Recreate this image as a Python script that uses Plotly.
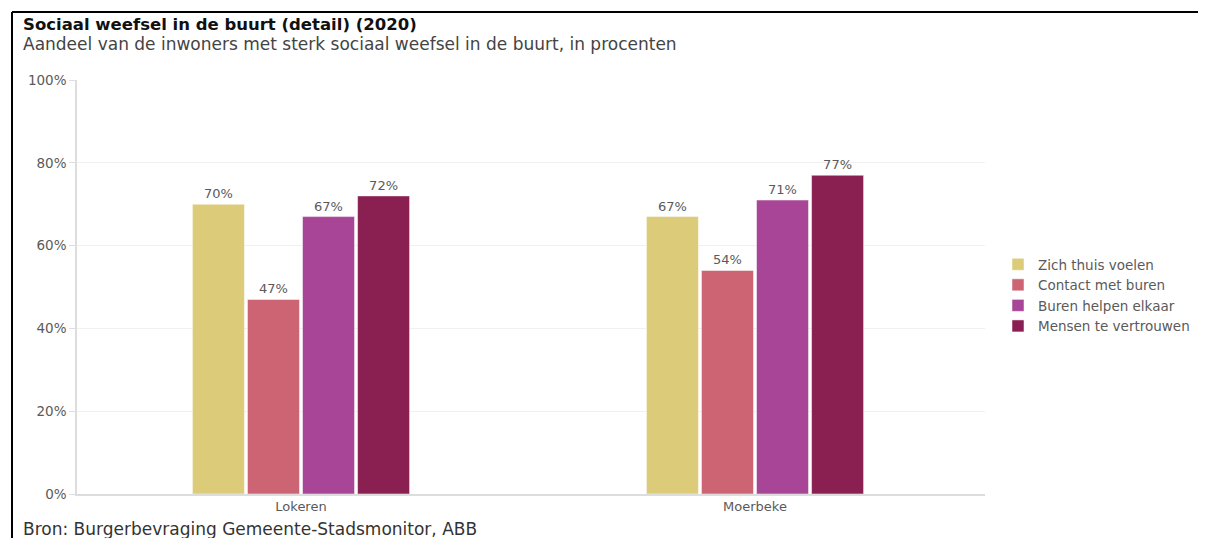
import plotly.graph_objects as go

# Data
gemeenten = ["Lokeren", "Moerbeke"]
reeksen = ["Zich thuis voelen", "Contact met buren", "Buren helpen elkaar", "Mensen te vertrouwen"]
zich_thuis = [70, 67]
contact = [47, 54]
helpen = [67, 71]
vertrouwen = [72, 77]
y_ticks = [0, 20, 40, 60, 80, 100]

kleuren = ["#dccb78", "#cc6473", "#a84596", "#8a1f51"]
waarden = [zich_thuis, contact, helpen, vertrouwen]

FONT = "DejaVu Sans"
GRIJS = "#5a5a5a"

fig = go.Figure()
for naam, vals, kleur in zip(reeksen, waarden, kleuren):
    fig.add_trace(go.Bar(
        x=gemeenten,
        y=vals,
        name=naam,
        marker=dict(color=kleur, line=dict(color="white", width=0.5)),
        text=[f"{v}%" for v in vals],
        textposition="outside",
        textfont=dict(size=13, color=GRIJS, family=FONT),
        cliponaxis=False,
    ))

# the page has an 8px body margin, so the figure is 8px smaller and
# every pixel position below is the reference position minus 8
W, H = 1198, 530
L, R, T, B = 69, 221, 72, 44
pw, ph = W - L - R, H - T - B


def px_x(p):
    return (p - L) / pw


def px_y(p):
    return (H - B - p) / ph


fig.update_layout(
    width=W, height=H,
    margin=dict(l=L, r=R, t=T, b=B, autoexpand=False),
    paper_bgcolor="white",
    plot_bgcolor="white",
    barmode="group",
    bargap=0.515,
    bargroupgap=0.055,
    font=dict(family=FONT, color=GRIJS, size=12),
    showlegend=True,
    legend=dict(
        x=px_x(990), y=px_y(241), xanchor="left", yanchor="top",
        font=dict(size=13.5, color=GRIJS, family=FONT),
        itemwidth=30, tracegroupgap=0,
    ),
    xaxis=dict(
        range=[-0.4934, 1.5066],
        showline=True, linecolor="#dddddd", linewidth=1.5,
        ticks="", tickfont=dict(size=13, color=GRIJS),
        showgrid=False,
    ),
    yaxis=dict(
        range=[0, 100], tickvals=y_ticks,
        ticktext=[f"{v}%" for v in y_ticks],
        showline=True, linecolor="#dddddd", linewidth=1.5,
        ticks="outside", ticklen=6, tickcolor="#dddddd",
        gridcolor="#f0f0f0", zeroline=False,
        tickfont=dict(size=13.5, color=GRIJS),
    ),
    annotations=[
        dict(text="<b>Sociaal weefsel in de buurt (detail) (2020)</b>",
             x=px_x(13), y=px_y(16), xref="paper", yref="paper",
             xanchor="left", yanchor="middle", showarrow=False,
             font=dict(size=16.5, color="#111111", family=FONT)),
        dict(text="Aandeel van de inwoners met sterk sociaal weefsel in de buurt, in procenten",
             x=px_x(13), y=px_y(36), xref="paper", yref="paper",
             xanchor="left", yanchor="middle", showarrow=False,
             font=dict(size=17, color="#444444", family=FONT)),
        dict(text="Bron: Burgerbevraging Gemeente-Stadsmonitor, ABB",
             x=px_x(13), y=px_y(521), xref="paper", yref="paper",
             xanchor="left", yanchor="middle", showarrow=False,
             font=dict(size=17, color="#333333", family=FONT)),
    ],
    shapes=[
        dict(type="line", xref="paper", yref="paper",
             x0=px_x(4), x1=px_x(1198), y0=px_y(4), y1=px_y(4),
             line=dict(color="black", width=2)),
        dict(type="line", xref="paper", yref="paper",
             x0=px_x(4), x1=px_x(4), y0=px_y(4), y1=px_y(530),
             line=dict(color="black", width=2)),
    ],
)

fig.write_html("out.html")
